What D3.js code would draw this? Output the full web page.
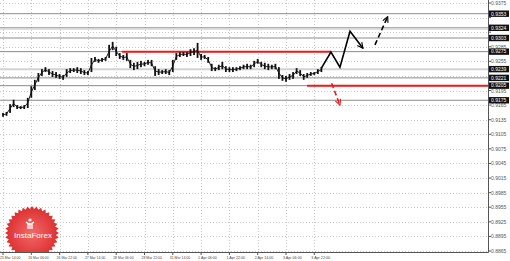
<!DOCTYPE html>
<html>
<head>
<meta charset="utf-8">
<script src="https://cdn.jsdelivr.net/npm/d3@7"></script>
<style>
  body { margin: 0; background: #fff; }
  svg { display: block; font-family: "Liberation Sans", Arial, sans-serif; }
</style>
</head>
<body>
<svg id="chart"></svg>
<script>
// hourly bars, one every 2 hours starting 25 Mar 14:00
const barHigh = [0.9149,0.9151,0.9167,0.9176,0.9165,0.9163,0.9165,0.9180,0.9204,0.9217,
  0.9231,0.9239,0.9243,0.9239,0.9235,0.9233,0.9229,0.9227,0.9239,0.9241,
  0.9241,0.9243,0.9241,0.9237,0.9235,0.9262,0.9264,0.9260,0.9262,0.9264,
  0.9289,0.9295,0.9285,0.9272,0.9268,0.9272,0.9258,0.9252,0.9254,0.9256,
  0.9254,0.9258,0.9258,0.9245,0.9239,0.9237,0.9239,0.9237,0.9258,0.9272,
  0.9274,0.9274,0.9274,0.9280,0.9282,0.9293,0.9270,0.9268,0.9264,0.9250,
  0.9243,0.9248,0.9254,0.9245,0.9243,0.9243,0.9243,0.9245,0.9248,0.9250,
  0.9248,0.9256,0.9260,0.9254,0.9252,0.9250,0.9248,0.9250,0.9243,0.9227,
  0.9225,0.9229,0.9233,0.9241,0.9237,0.9229,0.9231,0.9233,0.9233,0.9239,0.9243];
const barLow = [0.9141,0.9143,0.9149,0.9161,0.9157,0.9157,0.9157,0.9159,0.9180,0.9196,
  0.9213,0.9225,0.9233,0.9227,0.9223,0.9221,0.9219,0.9217,0.9223,0.9231,
  0.9233,0.9231,0.9229,0.9227,0.9227,0.9233,0.9254,0.9252,0.9254,0.9256,
  0.9262,0.9278,0.9266,0.9260,0.9258,0.9256,0.9241,0.9237,0.9239,0.9243,
  0.9245,0.9248,0.9245,0.9225,0.9227,0.9229,0.9229,0.9227,0.9233,0.9258,
  0.9264,0.9266,0.9264,0.9266,0.9268,0.9262,0.9258,0.9260,0.9252,0.9235,
  0.9235,0.9237,0.9239,0.9233,0.9233,0.9233,0.9235,0.9237,0.9239,0.9239,
  0.9239,0.9243,0.9250,0.9243,0.9239,0.9237,0.9239,0.9239,0.9219,0.9215,
  0.9213,0.9217,0.9219,0.9229,0.9225,0.9217,0.9221,0.9225,0.9227,0.9229,0.9233];
const barStep = 2; // hours

const timeLabels = ["25 Mar 14:00","26 Mar 06:00","26 Mar 22:00","27 Mar 14:00","28 Mar 06:00",
  "28 Mar 22:00","31 Mar 14:00","1 Apr 06:00","1 Apr 22:00","2 Apr 14:00","3 Apr 06:00","3 Apr 22:00"];
const priceTicks = [0.9375,0.9345,0.9315,0.9285,0.9255,0.9225,0.9195,0.9165,0.9135,0.9105,
  0.9075,0.9045,0.9015,0.8985,0.8955,0.8925,0.8895,0.8865];

const grayLevels = [0.9353,0.9324,0.9303,0.9275,0.9221,0.9205,0.9175];
const lightLevels = [0.9239];
const boxLevels = [0.9353,0.9324,0.9303,0.9275,0.9239,0.9221,0.9205,0.9175];
// red levels: [price, from hour, to hour (null = right edge)]
const redLevels = [[0.9275, 67.3, 185.4], [0.9205, 171.9, null]];

// forecast paths as [hour, price]
const mainPath = [[180, 0.9241],[185.4, 0.9274],[190.5, 0.9243],[196.2, 0.9317],[203.5, 0.9282]];
const altUp = [[210.3, 0.9289],[217.5, 0.9347]];
const altDown = [[185.8, 0.9210],[190.5, 0.9165]];

const size = {width: 510, height: 261};
const plot = {right: 488, bottom: 252};

const svg = d3.select("#chart").attr("width", size.width).attr("height", size.height);

const x = d3.scaleLinear().domain([0, 16]).range([3, 31.3]);
const y = d3.scaleLinear().domain([0.8865, 0.9375]).range([251, 3]);

const defs = svg.append("defs");
const mk = (id, color) => defs.append("marker")
    .attr("id", id).attr("viewBox", "0 0 10 10")
    .attr("refX", 9).attr("refY", 5)
    .attr("markerWidth", 7).attr("markerHeight", 7)
    .attr("markerUnits", "userSpaceOnUse")
    .attr("orient", "auto")
  .append("path").attr("d", "M1,1 L9,5 L1,9")
    .attr("fill", "none").attr("stroke", color).attr("stroke-width", 1.6);
mk("arrBlack", "#000");
mk("arrRed", "#f01818");

const grad = defs.append("radialGradient").attr("id", "logoGrad");
grad.append("stop").attr("offset", "0%").attr("stop-color", "#f26a6a");
grad.append("stop").attr("offset", "100%").attr("stop-color", "#dc2e2e");
defs.append("clipPath").attr("id", "plotClip")
  .append("rect").attr("x", 0).attr("y", 0).attr("width", plot.right).attr("height", plot.bottom);

// grid
const g = svg.append("g");
g.selectAll(".hg").data(priceTicks).enter().append("line")
  .attr("x1", 0).attr("x2", plot.right)
  .attr("y1", d => Math.round(y(d)) + 0.5).attr("y2", d => Math.round(y(d)) + 0.5)
  .attr("stroke", "#c8c8c8").attr("stroke-dasharray", "1,2");
g.selectAll(".vg").data(timeLabels).enter().append("line")
  .attr("x1", (d, i) => Math.round(x(i * 16)) + 0.5).attr("x2", (d, i) => Math.round(x(i * 16)) + 0.5)
  .attr("y1", 0).attr("y2", plot.bottom)
  .attr("stroke", "#c8c8c8").attr("stroke-dasharray", "1,2");

// logo
const logo = svg.append("g").attr("clip-path", "url(#plotClip)");
const cx = 32, cy = 233, teeth = 36;
const pts = d3.range(teeth * 2).map(i => {
  const a = i / (teeth * 2) * 2 * Math.PI;
  const r = i % 2 ? 24 : 27;
  return [cx + r * Math.cos(a), cy + r * Math.sin(a)];
});
logo.append("path").attr("d", d3.line()(pts) + "Z").attr("fill", "url(#logoGrad)");
logo.append("circle").attr("cx", 30).attr("cy", 220).attr("r", 1.6).attr("fill", "#fff");
logo.append("path").attr("d", "M26,222 Q30,226 34,222 M28,224 L28,229 M32,224 L32,229 M30,224 L30,229")
  .attr("stroke", "#fff").attr("stroke-width", 1.3).attr("fill", "none");
logo.append("text").attr("x", 33).attr("y", 238).attr("text-anchor", "middle")
  .attr("fill", "#fff").style("font-size", "8px").text("InstaForex");

// levels
g.selectAll(".lvl").data(grayLevels).enter().append("line")
  .attr("x1", 0).attr("x2", plot.right)
  .attr("y1", d => y(d)).attr("y2", d => y(d))
  .attr("stroke", "#8a8a8a").attr("stroke-width", 1);
g.append("line").attr("x1", 0).attr("x2", plot.right)
  .attr("y1", y(0.9324) + 1.4).attr("y2", y(0.9324) + 1.4)
  .attr("stroke", "#d0d0d0").attr("stroke-width", 1);
g.selectAll(".lt").data(lightLevels).enter().append("line")
  .attr("x1", 0).attr("x2", plot.right)
  .attr("y1", d => y(d)).attr("y2", d => y(d))
  .attr("stroke", "#d2d2d2").attr("stroke-width", 2);

// bars
const bars = svg.append("g");
bars.append("path")
  .attr("d", d3.line().x((d, i) => x(i * barStep)).y((d, i) => y((barHigh[i] + barLow[i]) / 2))(barHigh))
  .attr("fill", "none").attr("stroke", "#222").attr("stroke-width", 1);
bars.selectAll("rect").data(barHigh).enter().append("rect")
  .attr("x", (d, i) => x(i * barStep) - 0.9)
  .attr("y", d => y(d))
  .attr("width", 1.8)
  .attr("height", (d, i) => Math.max(1, y(barLow[i]) - y(d)))
  .attr("fill", "#111");

// red levels
g.selectAll(".red").data(redLevels).enter().append("line")
  .attr("x1", d => x(d[1])).attr("x2", d => d[2] === null ? plot.right : x(d[2]))
  .attr("y1", d => y(d[0])).attr("y2", d => y(d[0]))
  .attr("stroke", "#f01818").attr("stroke-width", 2);

// forecast
const line = d3.line().x(d => x(d[0])).y(d => y(d[1]));
svg.append("path").attr("d", line(mainPath))
  .attr("fill", "none").attr("stroke", "#000").attr("stroke-width", 1.6)
  .attr("marker-end", "url(#arrBlack)");
svg.append("path").attr("d", line(altUp))
  .attr("fill", "none").attr("stroke", "#000").attr("stroke-width", 1.6)
  .attr("stroke-dasharray", "5,3").attr("marker-end", "url(#arrBlack)");
svg.append("path").attr("d", line(altDown))
  .attr("fill", "none").attr("stroke", "#f01818").attr("stroke-width", 1.6)
  .attr("stroke-dasharray", "5,3").attr("marker-end", "url(#arrRed)");

// axes frame
svg.append("line").attr("x1", plot.right + 0.5).attr("x2", plot.right + 0.5)
  .attr("y1", 0).attr("y2", plot.bottom + 0.5).attr("stroke", "#555");
svg.append("line").attr("x1", 0).attr("x2", plot.right + 0.5)
  .attr("y1", plot.bottom + 0.5).attr("y2", plot.bottom + 0.5).attr("stroke", "#555");

// price labels (those under a level box are hidden, as in the terminal)
const visibleTicks = priceTicks.filter(t => boxLevels.every(b => Math.abs(y(t) - y(b)) >= 4.5));
const yl = svg.append("g");
yl.selectAll("line").data(priceTicks).enter().append("line")
  .attr("x1", plot.right).attr("x2", plot.right + 3)
  .attr("y1", d => y(d)).attr("y2", d => y(d)).attr("stroke", "#555");
yl.selectAll("text").data(visibleTicks).enter().append("text")
  .attr("x", plot.right + 3).attr("y", d => y(d) + 2)
  .attr("fill", "#555").style("font-size", "5px").text(d => d.toFixed(4));

// level boxes
const bx = svg.append("g").selectAll("g").data(boxLevels).enter().append("g")
  .attr("transform", d => "translate(" + (plot.right + 1) + "," + y(d) + ")");
bx.append("rect").attr("x", 0).attr("y", -3.2).attr("width", 20).attr("height", 6.4).attr("fill", "#111");
bx.append("text").attr("x", 2).attr("y", 1.8).attr("fill", "#fff")
  .style("font-size", "5px").text(d => d.toFixed(4));

// time labels
const xl = svg.append("g");
xl.selectAll("line").data(timeLabels).enter().append("line")
  .attr("x1", (d, i) => x(i * 16)).attr("x2", (d, i) => x(i * 16))
  .attr("y1", plot.bottom).attr("y2", plot.bottom + 3).attr("stroke", "#555");
xl.selectAll("text").data(timeLabels).enter().append("text")
  .attr("x", (d, i) => x(i * 16) - 3).attr("y", 258.5)
  .attr("fill", "#444").style("font-size", "4px")
  .attr("textLength", d => d.length * 1.7).attr("lengthAdjust", "spacingAndGlyphs")
  .text(d => d);
</script>
</body>
</html>
